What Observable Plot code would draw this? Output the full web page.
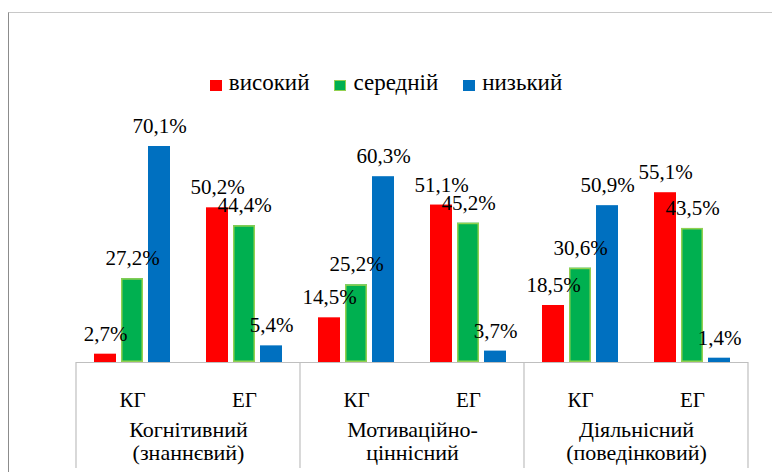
<!DOCTYPE html>
<html><head><meta charset="utf-8">
<script src="https://cdn.jsdelivr.net/npm/d3@7"></script>
<script src="https://cdn.jsdelivr.net/npm/@observablehq/plot@0.6"></script>
<style>
body{margin:0;background:#fff;}
#wrap{position:relative;width:772px;height:472px;overflow:hidden;font-family:'Liberation Serif';color:#000;}
#frame{position:absolute;left:8px;top:12px;width:800px;height:500px;border-top:1px solid #c8c8c8;border-left:1px solid #8c8c8c;}
#legend{position:absolute;left:0;top:71px;width:772px;display:flex;justify-content:center;gap:25px;font-family:'Liberation Serif';font-size:23px;line-height:23px;}
.item{display:flex;align-items:center;gap:7px;}
.sw{width:12px;height:11px;position:relative;top:3px;box-sizing:border-box;}
#chart{position:absolute;left:0;top:0;}
svg text{font-family:'Liberation Serif';}
</style></head><body>
<div id="wrap"><div id="frame"></div><div id="legend"></div><div id="chart"></div></div>
<script>
const categories = ["Когнітивний\n(знаннєвий)", "Мотиваційно-\nціннісний", "Діяльнісний\n(поведінковий)"];
const groups = ["КГ", "ЕГ"];
const levels = ["високий", "середній", "низький"];
// values in order: cat1 КГ, cat1 ЕГ, cat2 КГ, cat2 ЕГ, cat3 КГ, cat3 ЕГ
const high = [2.7, 50.2, 14.5, 51.1, 18.5, 55.1];
const mid  = [27.2, 44.4, 25.2, 45.2, 30.6, 43.5];
const low  = [70.1, 5.4, 60.3, 3.7, 50.9, 1.4];
const series = [high, mid, low];
const colors = ["#FF0000", "#00B050", "#0070C0"];

const rows = [];
categories.forEach((c, ci) => groups.forEach((g, gi) => {
  const k = ci * groups.length + gi;
  levels.forEach((l, li) => rows.push({cat: c, grp: g, key: c + "|" + g, level: l, value: series[li][k]}));
}));
const keys = categories.flatMap(c => groups.map(g => c + "|" + g));
const fmt = v => v.toFixed(1).replace(".", ",") + "%";
const FONT = "Liberation Serif";

const plot = Plot.plot({
  width: 772, height: 472,
  marginTop: 115.5, marginBottom: 110, marginLeft: 73, marginRight: 22,
  style: {fontFamily: FONT, fontSize: "20px", color: "#000", background: "transparent"},
  fx: {domain: keys, padding: 0, label: null},
  x: {domain: levels, paddingInner: 0.18, paddingOuter: 0.62, axis: null},
  y: {domain: [0, 80], axis: null},
  color: {domain: levels, range: colors},
  marks: [
    Plot.axisFx({anchor: "bottom", tickSize: 0, tickPadding: 30, fontSize: 21, fontFamily: FONT, label: null, tickFormat: k => k.split("|")[1]}),
    Plot.barY(rows, {fx: "key", x: "level", y: "value", fill: "level"}),
    Plot.barY(rows.filter(d => d.level === levels[1]), {fx: "key", x: "level", y: "value", fill: "none", stroke: "#92D050", strokeWidth: 1.5, inset: 0.75}),
    Plot.ruleY([0], {stroke: "#bfbfbf", strokeWidth: 1.2}),
    Plot.text(rows, {fx: "key", x: "level", y: "value", text: d => fmt(d.value), dy: -13.5, lineAnchor: "bottom", fontSize: 21, fontFamily: FONT, fill: "#000"}),
    Plot.text(categories.map(c => ({key: c + "|" + groups[0], label: c})), {fx: "key", text: "label", frameAnchor: "bottom-right", textAnchor: "middle", lineAnchor: "top", dy: 57.5, lineHeight: 1.07, fontSize: 22, fontFamily: FONT, fill: "#000"})
  ]
});

// category separators, placed via the facet and y scales
const fx = plot.scale("fx");
const y = plot.scale("y");
const edges = categories.map(c => fx.apply(c + "|" + groups[0]));
edges.push(fx.apply(keys[keys.length - 1]) + fx.bandwidth);
const svg = d3.select(plot);
svg.append("g").selectAll("line").data(edges).join("line")
  .attr("x1", d => d).attr("x2", d => d)
  .attr("y1", y.apply(0)).attr("y2", 468)
  .attr("stroke", "#bfbfbf").attr("stroke-width", 1.2);

document.getElementById("chart").appendChild(plot);

const legend = d3.select("#legend");
levels.forEach((l, i) => {
  const it = legend.append("div").attr("class", "item");
  it.append("div").attr("class", "sw").style("background", colors[i]).style("border", i === 1 ? "1.5px solid #92D050" : "none");
  it.append("span").style("font-family", FONT).text(l);
});
</script>
</body></html>
